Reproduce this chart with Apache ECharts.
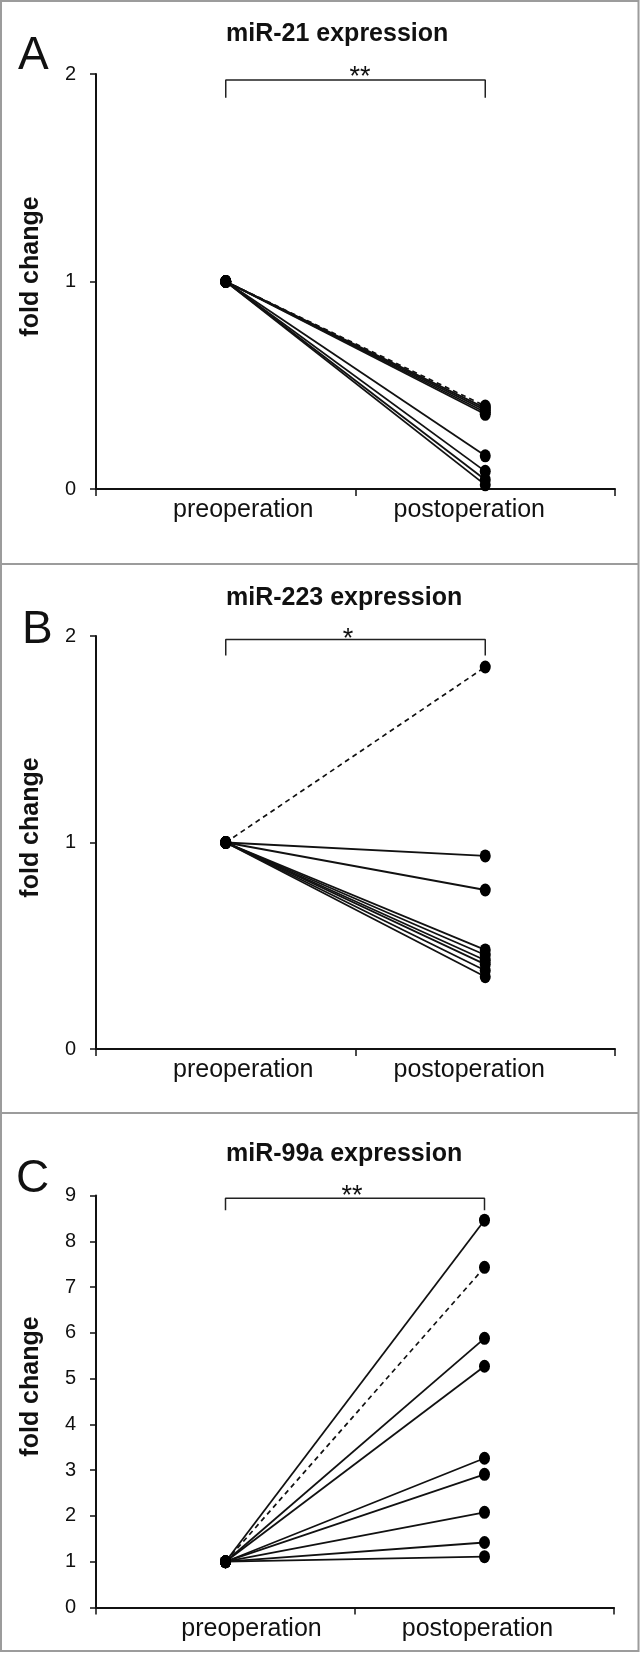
<!DOCTYPE html>
<html>
<head>
<meta charset="utf-8">
<script src="https://cdn.jsdelivr.net/npm/echarts@6/dist/echarts.min.js"></script>
<style>
html,body{margin:0;padding:0;background:#fff;}
#chart{width:644px;height:1653px;}
</style>
</head>
<body>
<div id="chart"></div>
<script>
// ---- data ----
const categories = ['preoperation', 'postoperation'];
const panelLetters = ['A', 'B', 'C'];
const panelTitles = ['miR-21 expression', 'miR-223 expression', 'miR-99a expression'];
const significance = ['**', '*', '**'];
const yMax = [2, 2, 9];
const mir21Pre  = [1, 1, 1, 1, 1, 1, 1, 1, 1];
const mir21Post = [0.40, 0.39, 0.38, 0.37, 0.36, 0.16, 0.085, 0.045, 0.02];
const mir21Dashed = [0];
const mir223Pre  = [1, 1, 1, 1, 1, 1, 1, 1, 1];
const mir223Post = [1.85, 0.935, 0.77, 0.48, 0.455, 0.43, 0.41, 0.38, 0.35];
const mir223Dashed = [0];
const mir99aPre  = [1, 1, 1, 1, 1, 1, 1, 1, 1];
const mir99aPost = [8.46, 7.43, 5.88, 5.27, 3.26, 2.91, 2.08, 1.42, 1.11];
const mir99aDashed = [1];
// bracket [leg bottom, bar top] in data units
const bracket21 = [1.885, 1.971];
const bracket223 = [1.905, 1.983];
const bracket99a = [8.68, 8.94];

// ---- layout ----
const FONT = "'Liberation Sans', Arial, Helvetica, sans-serif";
const pre = [mir21Pre, mir223Pre, mir99aPre];
const post = [mir21Post, mir223Post, mir99aPost];
const dashed = [mir21Dashed, mir223Dashed, mir99aDashed];
const brackets = [bracket21, bracket223, bracket99a];
const grids = [
  {left: 96, top: 74, width: 519, height: 415},
  {left: 96, top: 636, width: 519, height: 413},
  {left: 96, top: 1195.5, width: 518, height: 412}
];
const labelShift = [[35, 32], [35, 32], [52, 14]];
const titleY = [36, 600, 1156];
const letterPos = [[18, 56.5], [22, 630], [16, 1179]];
const starPos = [[360, 78], [348, 640], [352, 1196.5]];

const option = {
  animation: false,
  backgroundColor: '#fff',
  grid: grids.map(g => Object.assign({containLabel: false}, g)),
  xAxis: grids.map((g, i) => ({
    type: 'category',
    gridIndex: i,
    boundaryGap: true,
    data: [
      {value: categories[0], textStyle: {padding: [0, 0, 0, labelShift[i][0]]}},
      {value: categories[1], textStyle: {padding: [0, labelShift[i][1], 0, 0]}}
    ],
    axisLine: {show: true, lineStyle: {color: '#111', width: 2}},
    axisTick: {show: true, length: 7, lineStyle: {color: '#111', width: 1.5}},
    axisLabel: {fontSize: 25, color: '#111', fontFamily: FONT, margin: 9},
    splitLine: {show: false}
  })),
  yAxis: grids.map((g, i) => ({
    type: 'value',
    gridIndex: i,
    min: 0,
    max: yMax[i],
    interval: 1,
    name: 'fold change',
    nameLocation: 'middle',
    nameRotate: 90,
    nameGap: 52,
    nameTextStyle: {fontSize: 25, fontWeight: 'bold', color: '#111', fontFamily: FONT, padding: [0, 0, 0, 30]},
    axisLine: {show: true, lineStyle: {color: '#111', width: 2}},
    axisTick: {show: true, length: 6, lineStyle: {color: '#111', width: 1.5}},
    axisLabel: {fontSize: 20, color: '#111', fontFamily: FONT, margin: 20, padding: [10, 0, 0, 0]},
    splitLine: {show: false}
  })),
  series: [],
  graphic: []
};

for (let p = 0; p < 3; p++) {
  for (let k = 0; k < post[p].length; k++) {
    const isDashed = dashed[p].indexOf(k) >= 0;
    option.series.push({
      type: 'line',
      xAxisIndex: p,
      yAxisIndex: p,
      data: [[categories[0], pre[p][k]], [categories[1], post[p][k]]],
      symbol: 'circle',
      symbolSize: [11, 13],
      itemStyle: {color: '#000'},
      lineStyle: {color: '#111', width: isDashed ? 1.7 : 1.8, type: isDashed ? [5, 4] : 'solid'},
      z: isDashed ? 3 : 2,
      silent: true
    });
  }
  const b = brackets[p];
  option.series.push({
    type: 'line',
    xAxisIndex: p,
    yAxisIndex: p,
    data: [[categories[0], b[0]], [categories[0], b[1]], [categories[1], b[1]], [categories[1], b[0]]],
    symbol: 'none',
    lineStyle: {color: '#222', width: 1.5},
    silent: true
  });
  option.graphic.push({
    type: 'text', left: 226, top: titleY[p] - 14,
    style: {text: panelTitles[p], font: 'bold 25px ' + FONT, fill: '#111'}
  });
  option.graphic.push({
    type: 'text', x: letterPos[p][0], y: letterPos[p][1],
    style: {text: panelLetters[p], font: '46px ' + FONT, fill: '#111', align: 'left', verticalAlign: 'middle'}
  });
  option.graphic.push({
    type: 'text', x: starPos[p][0], y: starPos[p][1],
    style: {text: significance[p], font: '27px ' + FONT, fill: '#111', align: 'center', verticalAlign: 'middle'}
  });
}

// frame and panel separators
option.graphic.push({type: 'rect', shape: {x: 1, y: 1, width: 637.5, height: 1650}, style: {fill: 'none', stroke: '#9c9c9c', lineWidth: 2}, z: 10});
option.graphic.push({type: 'line', shape: {x1: 0, y1: 564, x2: 639, y2: 564}, style: {stroke: '#9c9c9c', lineWidth: 2}, z: 10});
option.graphic.push({type: 'line', shape: {x1: 0, y1: 1113, x2: 639, y2: 1113}, style: {stroke: '#9c9c9c', lineWidth: 2}, z: 10});

const chart = echarts.init(document.getElementById('chart'), null, {renderer: 'canvas'});
chart.setOption(option);
</script>
</body>
</html>
